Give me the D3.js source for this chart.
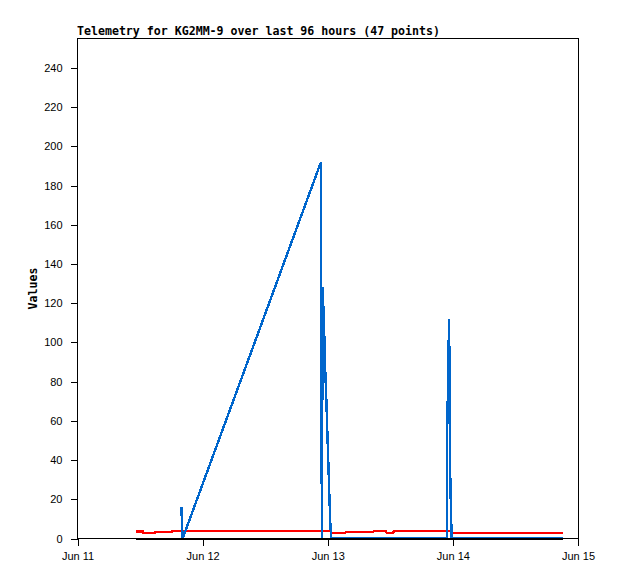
<!DOCTYPE html>
<html>
<head>
<meta charset="utf-8">
<script src="https://cdn.jsdelivr.net/npm/d3@7"></script>
<style>
  body { margin: 0; background: #fff; }
  .axis text { font-family: "Liberation Sans", Arial, sans-serif; font-size: 11px; fill: #000; }
  .axis path, .axis line { stroke: #000; shape-rendering: crispEdges; }
  .title, .ylabel { font-family: "DejaVu Sans Mono", monospace; font-weight: bold; font-size: 11.6px; }
</style>
</head>
<body>
<svg width="618" height="579"></svg>
<script>
// time ticks and values
var tickDays = ["2023-06-11", "2023-06-12", "2023-06-13", "2023-06-14", "2023-06-15"];
var yTicks = [0, 20, 40, 60, 80, 100, 120, 140, 160, 180, 200, 220, 240];

// red series
var redTimes = ["2023-06-11 11:11", "2023-06-11 12:30", "2023-06-11 12:40", "2023-06-11 14:45",
                "2023-06-11 14:55", "2023-06-11 18:00", "2023-06-11 18:10", "2023-06-13 00:30",
                "2023-06-13 00:40", "2023-06-13 03:15", "2023-06-13 03:25", "2023-06-13 08:40",
                "2023-06-13 08:50", "2023-06-13 11:10", "2023-06-13 11:20", "2023-06-13 12:30",
                "2023-06-13 12:40", "2023-06-13 23:45", "2023-06-13 23:55", "2023-06-14 21:12"];
var redValues = [3.6, 3.6, 2.7, 2.7, 3.2, 3.2, 3.8, 3.8, 2.7, 2.7, 3.2, 3.2, 3.7, 3.7, 2.7, 2.7,
                 3.7, 3.7, 2.7, 2.7];

// blue series
var blueTimes = ["2023-06-11 19:55", "2023-06-11 20:10", "2023-06-12 22:42", "2023-06-12 22:52",
                 "2023-06-12 23:02", "2023-06-12 23:08", "2023-06-12 23:20", "2023-06-12 23:31",
                 "2023-06-12 23:43", "2023-06-12 23:54", "2023-06-13 00:06", "2023-06-13 00:17",
                 "2023-06-13 00:29", "2023-06-13 00:40", "2023-06-13 22:50", "2023-06-13 22:56",
                 "2023-06-13 23:16", "2023-06-13 23:22", "2023-06-13 23:31", "2023-06-13 23:46",
                 "2023-06-14 21:12"];
var blueValues = [16, 0, 192, 0, 128, 120, 104, 86, 72, 56, 40, 24, 8, 0, 0, 58, 112, 84, 28, 0, 0];

// black series
var blackTimes = ["2023-06-11 11:11", "2023-06-14 21:12"];
var blackValues = [0, 0];

var parse = d3.timeParse("%Y-%m-%d %H:%M");
var parseDay = d3.timeParse("%Y-%m-%d");

var svg = d3.select("svg"),
    margin = {top: 38.5, right: 40, bottom: 40.5, left: 77.5},
    width = +svg.attr("width") - margin.left - margin.right,
    height = +svg.attr("height") - margin.top - margin.bottom;

var x = d3.scaleTime()
    .domain([parseDay(tickDays[0]), parseDay(tickDays[tickDays.length - 1])])
    .range([0, width]);
var y = d3.scaleLinear().domain([0, 255]).range([height, 0]);

var g = svg.append("g")
    .attr("transform", "translate(" + margin.left + "," + margin.top + ")");

// frame
g.append("rect")
    .attr("width", width).attr("height", height)
    .attr("fill", "none").attr("stroke", "#000")
    .style("shape-rendering", "crispEdges");

g.append("g")
    .attr("class", "axis")
    .attr("transform", "translate(0," + height + ")")
    .call(d3.axisBottom(x)
        .tickValues(tickDays.map(parseDay))
        .tickSize(7).tickPadding(7)
        .tickFormat(d3.timeFormat("%b %d")))
    .select(".domain").remove();

g.append("g")
    .attr("class", "axis")
    .call(d3.axisLeft(y).tickValues(yTicks).tickSize(7).tickPadding(8))
    .select(".domain").remove();

function series(times, values) {
    return times.map(function(t, i) { return {t: parse(t), v: values[i]}; });
}

var line = d3.line()
    .x(function(d) { return x(d.t); })
    .y(function(d) { return y(d.v); });

[[redTimes, redValues, "#ff0000", 2.4],
 [blueTimes, blueValues, "#0066cc", 2.4],
 [blackTimes, blackValues, "#000000", 2]].forEach(function(s) {
    g.append("path")
        .datum(series(s[0], s[1]))
        .attr("fill", "none")
        .attr("stroke", s[2])
        .attr("stroke-width", s[3])
        .style("shape-rendering", "crispEdges")
        .attr("d", line);
});

svg.append("text")
    .attr("class", "title")
    .attr("x", 77)
    .attr("y", 35)
    .text("Telemetry for KG2MM-9 over last 96 hours (47 points)");

svg.append("text")
    .attr("class", "ylabel")
    .attr("transform", "translate(37," + (margin.top + height / 2) + ") rotate(-90)")
    .style("text-anchor", "middle")
    .text("Values");
</script>
</body>
</html>
